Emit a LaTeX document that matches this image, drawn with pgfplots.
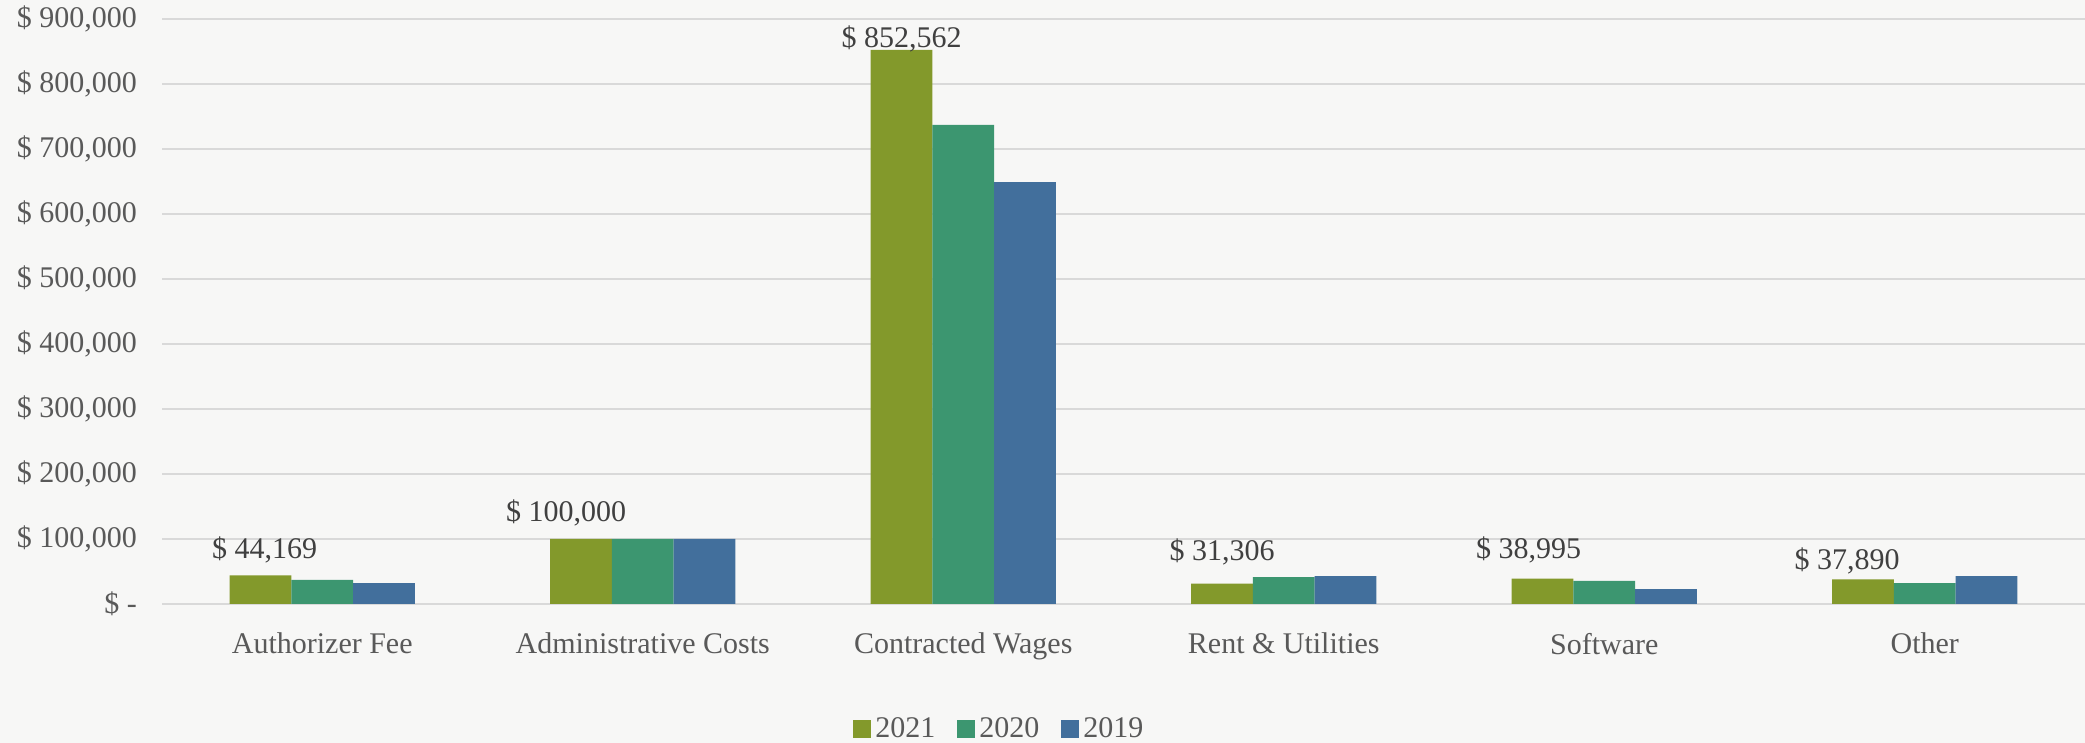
\documentclass[border=0pt]{standalone}
\usepackage{pgfplots}
\pgfplotsset{compat=1.18}
\usepackage{pgfplotstable}
\usepackage{fontspec}
\setmainfont{Liberation Serif}
\definecolor{c21}{HTML}{83992B}
\definecolor{c20}{HTML}{3C9670}
\definecolor{c19}{HTML}{426F9C}
\definecolor{bg}{HTML}{F7F7F6}
\definecolor{gridc}{HTML}{D9D9D9}
\definecolor{txt}{HTML}{595959}
\definecolor{lbl}{HTML}{404040}
\pgfplotstableread{
x a b c dx dy
0 44169 37000 32000 2 12.5
1 100000 100000 100000 -7.5 13
2 852562 737000 649000 0 5.5
3 31306 41500 43000 0 16
4 38995 35400 23000 -7 14.5
5 37890 32000 43000 -8 9
}\data
\begin{document}
\begin{tikzpicture}
\fill[bg] (0,0) rectangle (1042.5pt,371.5pt);
\useasboundingbox (0,0) rectangle (1042.5pt,371.5pt);
\begin{axis}[
  at={(81pt,69.5pt)}, anchor=south west,
  scale only axis, width=961.5pt, height=292.5pt,
  ybar=0pt, bar width=30.85pt,
  xmin=-0.5, xmax=5.5, ymin=0, ymax=900000,
  clip=false, scaled y ticks=false,
  ytick={0,100000,200000,300000,400000,500000,600000,700000,800000,900000},
  yticklabels={\$ -, \$ 100{,}000, \$ 200{,}000, \$ 300{,}000, \$ 400{,}000, \$ 500{,}000, \$ 600{,}000, \$ 700{,}000, \$ 800{,}000, \$ 900{,}000},
  xtick={0,1,2,3,4,5},
  xticklabels={Authorizer Fee, Administrative Costs, Contracted Wages, Rent \& Utilities, Software, Other},
  ymajorgrids, grid style={gridc, line width=0.75pt},
  axis line style={draw=none},
  major tick length=0pt,
  tick label style={font=\fontsize{15}{18}\selectfont, text=txt},
  yticklabel style={xshift=-9pt},
  xticklabel style={yshift=-11pt},
  legend style={at={(0.436,-0.214)}, anchor=center, draw=none, fill=none,
    legend columns=-1, font=\fontsize{15}{18}\selectfont, text=txt,
    /tikz/every even column/.append style={column sep=9pt},
    /tikz/every odd column/.append style={column sep=0pt}},
  legend image code/.code={\fill[#1] (0pt,-4.5pt) rectangle (9pt,4.5pt);},
]
\addplot[fill=c21, draw=none,
  visualization depends on={\thisrow{dx} \as \dx},
  visualization depends on={\thisrow{dy} \as \dy},
  nodes near coords={\$ \pgfmathprintnumber[fixed, precision=0, 1000 sep={,}, assume math mode=true]{\pgfplotspointmeta}},
  every node near coord/.append style={font=\fontsize{15}{18}\selectfont, text=lbl, anchor=center, xshift=\dx pt, yshift=\dy pt}
] table[x=x, y=a] {\data};
\addlegendentry{2021}
\addplot[fill=c20, draw=none] table[x=x, y=b] {\data};
\addlegendentry{2020}
\addplot[fill=c19, draw=none] table[x=x, y=c] {\data};
\addlegendentry{2019}
\end{axis}
\end{tikzpicture}
\end{document}
